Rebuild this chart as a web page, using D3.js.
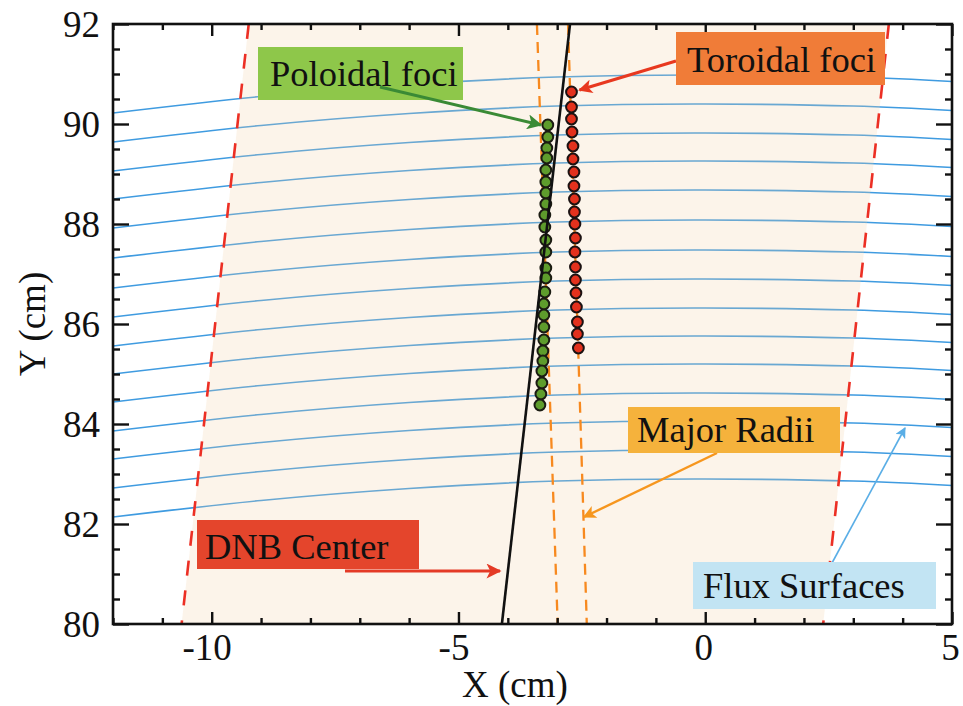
<!DOCTYPE html>
<html>
<head>
<meta charset="utf-8">
<script src="https://cdn.jsdelivr.net/npm/d3@7"></script>
<style>
  html, body { margin: 0; padding: 0; background: #ffffff; }
  svg { display: block; }
</style>
</head>
<body>
<svg id="chart" width="963" height="706"></svg>
<script>
// ---------------- DATA ----------------
const xTicks = [-10, -5, 0, 5];
const yTicks = [80, 82, 84, 86, 88, 90, 92];

// Flux surfaces: sampled x positions (cm) and Y (cm) of each surface
const fluxX = [-12, -9, -6, -3, 0, 3, 5];
const flux01 = [90.22, 90.55, 90.79, 90.94, 90.98, 90.94, 90.85];
const flux02 = [89.64, 89.97, 90.21, 90.36, 90.40, 90.36, 90.27];
const flux03 = [89.06, 89.39, 89.63, 89.78, 89.82, 89.78, 89.69];
const flux04 = [88.50, 88.83, 89.07, 89.22, 89.26, 89.22, 89.13];
const flux05 = [87.92, 88.25, 88.49, 88.64, 88.68, 88.64, 88.55];
const flux06 = [87.32, 87.65, 87.89, 88.04, 88.08, 88.04, 87.95];
const flux07 = [86.72, 87.05, 87.29, 87.44, 87.48, 87.44, 87.35];
const flux08 = [86.14, 86.47, 86.71, 86.86, 86.90, 86.86, 86.77];
const flux09 = [85.56, 85.89, 86.13, 86.28, 86.32, 86.28, 86.19];
const flux10 = [85.00, 85.33, 85.57, 85.72, 85.76, 85.72, 85.63];
const flux11 = [84.44, 84.77, 85.01, 85.16, 85.20, 85.16, 85.07];
const flux12 = [83.86, 84.19, 84.43, 84.58, 84.62, 84.58, 84.49];
const flux13 = [83.30, 83.63, 83.87, 84.02, 84.06, 84.02, 83.93];
const flux14 = [82.72, 83.05, 83.29, 83.44, 83.48, 83.44, 83.35];
const flux15 = [82.14, 82.47, 82.71, 82.86, 82.90, 82.86, 82.77];
const fluxSurfaces = [flux01, flux02, flux03, flux04, flux05, flux06, flux07, flux08,
                      flux09, flux10, flux11, flux12, flux13, flux14, flux15];

// Poloidal foci (green)
const poloidalX = [-3.19, -3.19, -3.21, -3.21, -3.23, -3.23, -3.23, -3.23, -3.25, -3.25,
                   -3.23, -3.23, -3.23, -3.23, -3.25, -3.27, -3.27, -3.27, -3.27, -3.29,
                   -3.29, -3.31, -3.31, -3.33, -3.35];
const poloidalY = [89.98, 89.74, 89.52, 89.32, 89.08, 88.84, 88.62, 88.40, 88.18, 87.94,
                   87.68, 87.44, 87.12, 86.92, 86.64, 86.40, 86.18, 85.94, 85.68, 85.46,
                   85.26, 85.06, 84.82, 84.60, 84.38];

// Toroidal foci (red)
const toroidalX = [-2.71, -2.71, -2.71, -2.70, -2.68, -2.68, -2.66, -2.66, -2.65, -2.65,
                   -2.64, -2.63, -2.64, -2.63, -2.63, -2.62, -2.61, -2.59, -2.59, -2.57];
const toroidalY = [90.64, 90.34, 90.10, 89.84, 89.56, 89.30, 89.04, 88.76, 88.50, 88.24,
                   88.00, 87.72, 87.44, 87.14, 86.88, 86.62, 86.34, 86.04, 85.80, 85.52];

// Straight lines (top, bottom)
const lineY = [92, 80];
const dnbCenterX = [-2.74, -4.12];
const majorRadiusLeftX = [-3.41, -2.99];
const majorRadiusRightX = [-2.78, -2.40];
const beamEdgeLeftX = [-9.25, -10.61];
const beamEdgeRightX = [3.72, 2.39];

// ---------------- CHART ----------------
const svg = d3.select("#chart");
const L = 113, R = 952, T = 24, B = 624;
const x = d3.scaleLinear().domain([-12, 5]).range([L, R]);
const y = d3.scaleLinear().domain([80, 92]).range([B, T]);
const FONT = "'Liberation Serif', 'Times New Roman', serif";

svg.append("defs").append("clipPath").attr("id", "clip")
  .append("rect").attr("x", L).attr("y", T).attr("width", R - L).attr("height", B - T);

const defs = svg.select("defs");
function marker(id, color, w, h) {
  defs.append("marker").attr("id", id)
    .attr("viewBox", "0 0 10 10").attr("refX", 9).attr("refY", 5)
    .attr("markerUnits", "userSpaceOnUse")
    .attr("markerWidth", w).attr("markerHeight", h)
    .attr("orient", "auto")
    .append("path").attr("d", "M0,0 L10,5 L0,10 L2.5,5 Z").attr("fill", color);
}
marker("mGreen", "#3a8a35", 22, 15);
marker("mRedT", "#e8381f", 22, 14);
marker("mRedD", "#e43a26", 22, 15);
marker("mOrange", "#f6961e", 20, 13);
marker("mBlue", "#5aaee6", 20, 11);

const plot = svg.append("g").attr("clip-path", "url(#clip)");

// Flux surfaces
const fluxLine = d3.line().x(d => x(d[0])).y(d => y(d[1])).curve(d3.curveNatural);
plot.selectAll("path.flux").data(fluxSurfaces).join("path")
  .attr("class", "flux")
  .attr("d", ys => fluxLine(ys.map((v, i) => [fluxX[i], v])))
  .attr("fill", "none").attr("stroke", "#3f9be0").attr("stroke-width", 1.7);

// Beam region (beige) between red dashed edges, drawn as a translucent overlay
const band = [[beamEdgeLeftX[0], lineY[0]], [beamEdgeRightX[0], lineY[0]],
              [beamEdgeRightX[1], lineY[1]], [beamEdgeLeftX[1], lineY[1]]];
plot.append("path")
  .attr("d", d3.line().x(d => x(d[0])).y(d => y(d[1]))(band) + "Z")
  .attr("fill", "#f2d2a8").attr("fill-opacity", 0.24);

// Beam edges (red dashed)
const seg = (xs) => d3.line().x(d => x(d[0])).y(d => y(d[1]))(xs.map((v, i) => [v, lineY[i]]));
[beamEdgeLeftX, beamEdgeRightX].forEach(xs => {
  plot.append("path").attr("d", seg(xs))
    .attr("stroke", "#ec2f24").attr("stroke-width", 2.6)
    .attr("stroke-dasharray", "15,15").attr("fill", "none");
});

// Major radii (orange dashed)
[majorRadiusLeftX, majorRadiusRightX].forEach(xs => {
  plot.append("path").attr("d", seg(xs))
    .attr("stroke", "#f7891f").attr("stroke-width", 2.3)
    .attr("stroke-dasharray", "11,7").attr("fill", "none");
});

// Foci points
plot.selectAll("circle.pol").data(poloidalX).join("circle")
  .attr("class", "pol")
  .attr("cx", d => x(d)).attr("cy", (d, i) => y(poloidalY[i])).attr("r", 5.4)
  .attr("fill", "#5e9c2c").attr("stroke", "#1b1b12").attr("stroke-width", 2);
plot.selectAll("circle.tor").data(toroidalX).join("circle")
  .attr("class", "tor")
  .attr("cx", d => x(d)).attr("cy", (d, i) => y(toroidalY[i])).attr("r", 5.4)
  .attr("fill", "#e3311d").attr("stroke", "#1b1212").attr("stroke-width", 2);

// DNB center (black)
plot.append("path").attr("d", seg(dnbCenterX))
  .attr("stroke", "#111").attr("stroke-width", 2.6).attr("fill", "none");

// ---------------- AXES ----------------
const minorX = d3.range(-12, 5.01, 1).filter(v => !xTicks.includes(v));
const minorY = d3.range(80, 92.01, 0.5).filter(v => !yTicks.includes(v));

function styleAxis(g) {
  g.select(".domain").remove();
  g.selectAll(".tick line").attr("stroke", "#111").attr("stroke-width", 2.4);
  g.selectAll("text").attr("font-family", FONT).attr("font-size", 37).attr("fill", "#111");
}

// bottom
svg.append("g").attr("transform", `translate(0,${B})`)
  .call(d3.axisBottom(x).tickValues(xTicks).tickSize(-12).tickSizeOuter(0)
        .tickFormat(d => d < 0 ? "-" + Math.abs(d) : String(d)))
  .call(styleAxis)
  .call(g => g.selectAll("text").attr("y", 36).attr("dy", null)
        .attr("dx", d => d < 0 ? -5 : -2));
svg.append("g").attr("transform", `translate(0,${B})`)
  .call(d3.axisBottom(x).tickValues(minorX).tickSize(-6).tickSizeOuter(0).tickFormat(""))
  .call(styleAxis);
// top
svg.append("g").attr("transform", `translate(0,${T})`)
  .call(d3.axisTop(x).tickValues(xTicks).tickSize(-12).tickSizeOuter(0).tickFormat(""))
  .call(styleAxis);
svg.append("g").attr("transform", `translate(0,${T})`)
  .call(d3.axisTop(x).tickValues(minorX).tickSize(-6).tickSizeOuter(0).tickFormat(""))
  .call(styleAxis);
// left
svg.append("g").attr("transform", `translate(${L},0)`)
  .call(d3.axisLeft(y).tickValues(yTicks).tickSize(-16).tickSizeOuter(0).tickFormat(d3.format("d")))
  .call(styleAxis)
  .call(g => g.selectAll("text").attr("x", -13).attr("dy", "0.33em"));
svg.append("g").attr("transform", `translate(${L},0)`)
  .call(d3.axisLeft(y).tickValues(minorY).tickSize(-7).tickSizeOuter(0).tickFormat(""))
  .call(styleAxis);
// right
svg.append("g").attr("transform", `translate(${R},0)`)
  .call(d3.axisRight(y).tickValues(yTicks).tickSize(-16).tickSizeOuter(0).tickFormat(""))
  .call(styleAxis);
svg.append("g").attr("transform", `translate(${R},0)`)
  .call(d3.axisRight(y).tickValues(minorY).tickSize(-7).tickSizeOuter(0).tickFormat(""))
  .call(styleAxis);

// frame
svg.append("rect").attr("x", L).attr("y", T).attr("width", R - L).attr("height", B - T)
  .attr("fill", "none").attr("stroke", "#111").attr("stroke-width", 2.6);

// axis titles
svg.append("text").attr("x", 515).attr("y", 697).attr("text-anchor", "middle")
  .attr("font-family", FONT).attr("font-size", 37).attr("fill", "#111").text("X (cm)");
svg.append("text").attr("transform", "translate(45,324) rotate(-90)").attr("text-anchor", "middle")
  .attr("font-family", FONT).attr("font-size", 37).attr("fill", "#111").text("Y (cm)");

// ---------------- ANNOTATIONS ----------------
function arrow(x1, y1, x2, y2, color, w, m) {
  svg.append("line").attr("x1", x1).attr("y1", y1).attr("x2", x2).attr("y2", y2)
    .attr("stroke", color).attr("stroke-width", w).attr("marker-end", `url(#${m})`);
}
function label(bx, by, bw, bh, fill, tx, ty, txt) {
  svg.append("rect").attr("x", bx).attr("y", by).attr("width", bw).attr("height", bh)
    .attr("fill", fill);
  svg.append("text").attr("x", tx).attr("y", ty)
    .attr("font-family", FONT).attr("font-size", 36.5).attr("fill", "#111").text(txt);
}

// Poloidal foci
label(258, 47, 205, 53, "#8ec74a", 270, 86, "Poloidal foci");
arrow(380, 87, x(poloidalX[0]) - 7, y(poloidalY[0]), "#3a8a35", 3, "mGreen");

// Toroidal foci
arrow(676, 61, x(toroidalX[0]) + 8, y(toroidalY[0]) - 2, "#e8381f", 3, "mRedT");
label(676, 32, 209, 53, "#f07c38", 687, 72, "Toroidal foci");

// DNB Center
arrow(345, 571, 500, 571, "#e43a26", 3, "mRedD");
label(197, 520, 222, 49, "#e4452c", 205, 559, "DNB Center");

// Major Radii
arrow(717, 453, 584, 517, "#f6961e", 2.4, "mOrange");
label(628, 407, 212, 46, "#f5b23c", 637, 442, "Major Radii");

// Flux Surfaces
arrow(832, 563, 905, 428, "#5aaee6", 1.6, "mBlue");
label(693, 562, 243, 47, "#c2e4f3", 703, 598, "Flux Surfaces");
</script>
</body>
</html>
